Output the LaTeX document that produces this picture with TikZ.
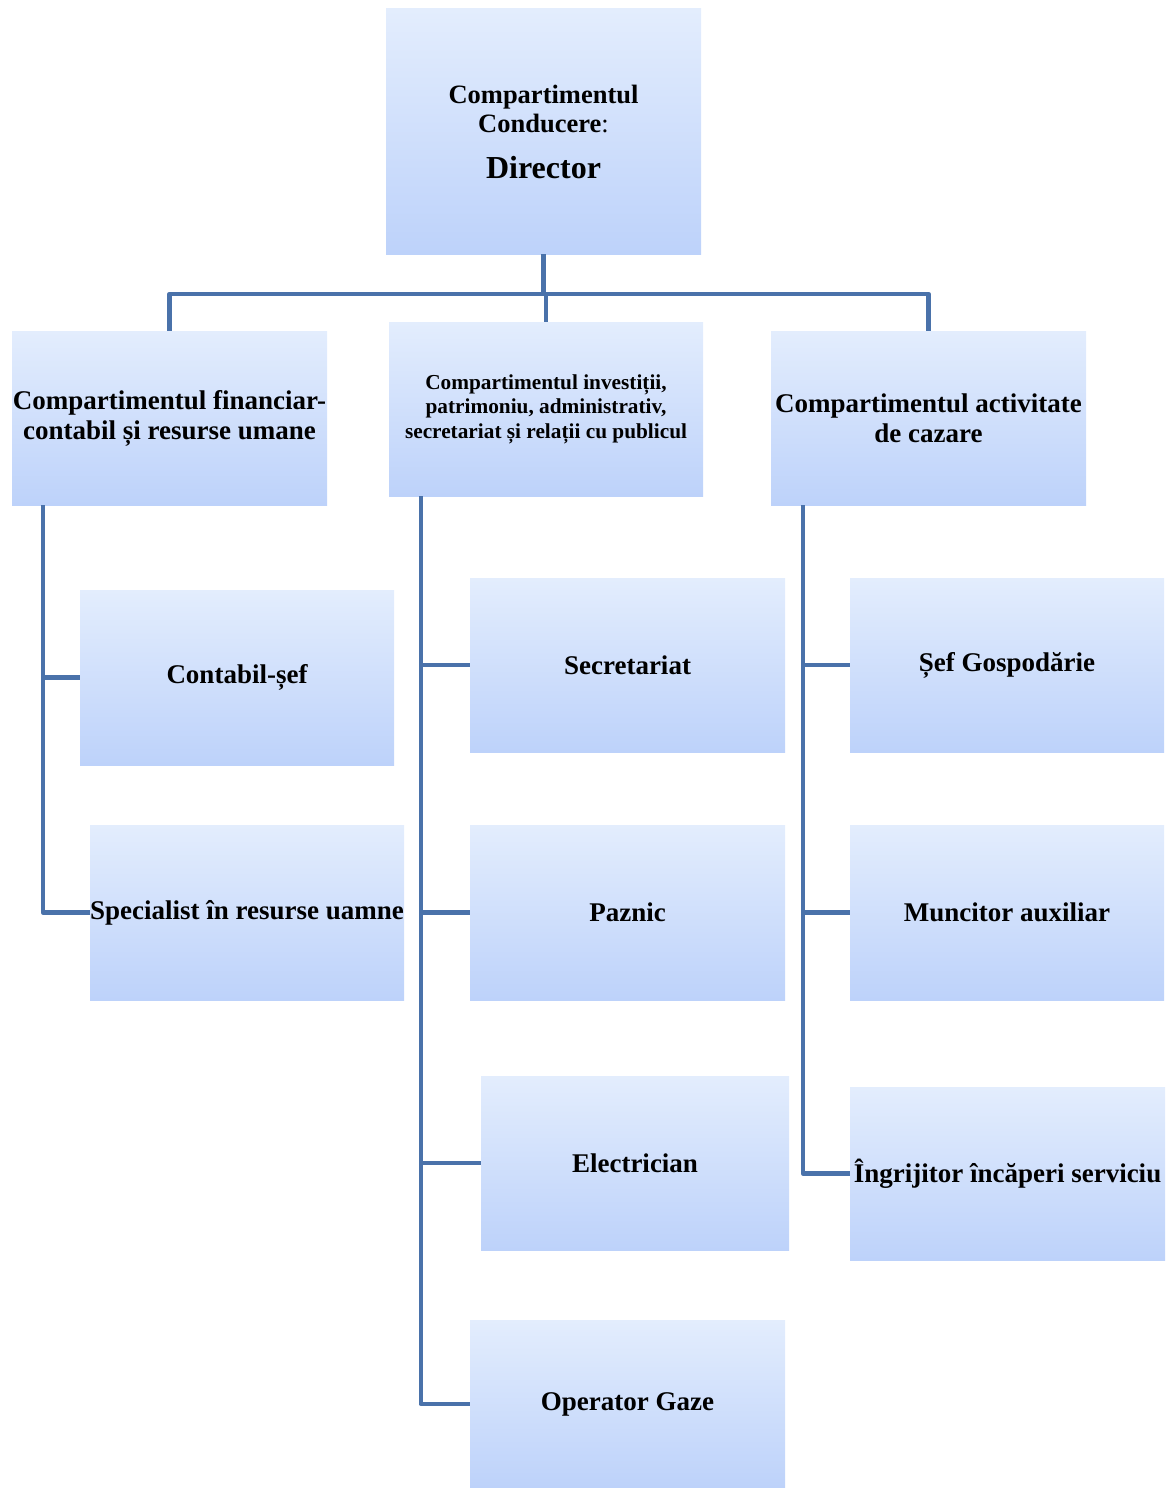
\documentclass[tikz,border=0pt]{standalone}
\usepackage{fontspec}
\setmainfont{Liberation Serif}
\definecolor{lineblue}{HTML}{4A72AA}
\definecolor{boxtop}{HTML}{E3EDFD}
\definecolor{boxbot}{HTML}{BDD2FA}
\begin{document}
\begin{tikzpicture}[x=1pt,y=-1pt,
  box/.style={rectangle, top color=boxtop, bottom color=boxbot, draw=none,
    inner sep=0pt, align=center, text=black, font=\bfseries\fontsize{27}{30}\selectfont},
  link/.style={draw=lineblue, line width=4.5pt, line join=round}]
\useasboundingbox (0,0) rectangle (1168,1488);
% boxes
\node[box, minimum width=315, minimum height=245, font=\bfseries\fontsize{26.5}{29}\selectfont] (dir) at (543.5,131.5)
  {Compartimentul\\Conducere{\mdseries :}\\[17pt] \fontsize{32}{40}\selectfont Director};
\node[box, minimum width=315, minimum height=174] (fin) at (169.5,418)
  {Compartimentul financiar-\\contabil și resurse umane};
\node[box, minimum width=314, minimum height=174, font=\bfseries\fontsize{21.3}{24.5}\selectfont] (inv) at (546,409)
  {Compartimentul investiții,\\patrimoniu, administrativ,\\secretariat și relații cu publicul};
\node[box, minimum width=315, minimum height=174] (caz) at (928.5,418)
  {Compartimentul activitate\\de cazare};
\node[box, minimum width=314, minimum height=175] (cont) at (237,677.5) {Contabil-șef};
\node[box, minimum width=314, minimum height=175] (spec) at (247,912.5) {Specialist în resurse uamne};
\node[box, minimum width=315, minimum height=174] (secr) at (627.5,665) {Secretariat};
\node[box, minimum width=315, minimum height=175] (pazn) at (627.5,912.5) {Paznic};
\node[box, minimum width=308, minimum height=174] (elec) at (635,1163) {Electrician};
\node[box, minimum width=315, minimum height=168] (oper) at (627.5,1404) {Operator Gaze};
\node[box, minimum width=314, minimum height=174] (sefg) at (1007,665) {Șef Gospodărie};
\node[box, minimum width=314, minimum height=175] (munc) at (1007,912.5) {Muncitor auxiliar};
\node[box, minimum width=315, minimum height=173] (ingr) at (1007.5,1173.5) {Îngrijitor încăperi serviciu};
% top connectors
\coordinate (bar) at (544,294);
\draw[link] (dir.south) -- (dir.south |- bar);
\draw[link] (fin.north) |- (bar) -| (caz.north);
\draw[link] (inv.north) -- (inv.north |- bar);
% left spine
\coordinate (ls) at ([xshift=31]fin.south west);
\draw[link] (ls) |- (cont.west);
\draw[link] (ls) |- (spec.west);
% middle spine
\coordinate (ms) at ([xshift=32]inv.south west);
\draw[link] (ms) |- (secr.west);
\draw[link] (ms) |- (pazn.west);
\draw[link] (ms) |- (elec.west);
\draw[link] (ms) |- (oper.west);
% right spine
\coordinate (rs) at ([xshift=32]caz.south west);
\draw[link] (rs) |- (sefg.west);
\draw[link] (rs) |- (munc.west);
\draw[link] (rs) |- (ingr.west);
\end{tikzpicture}
\end{document}
